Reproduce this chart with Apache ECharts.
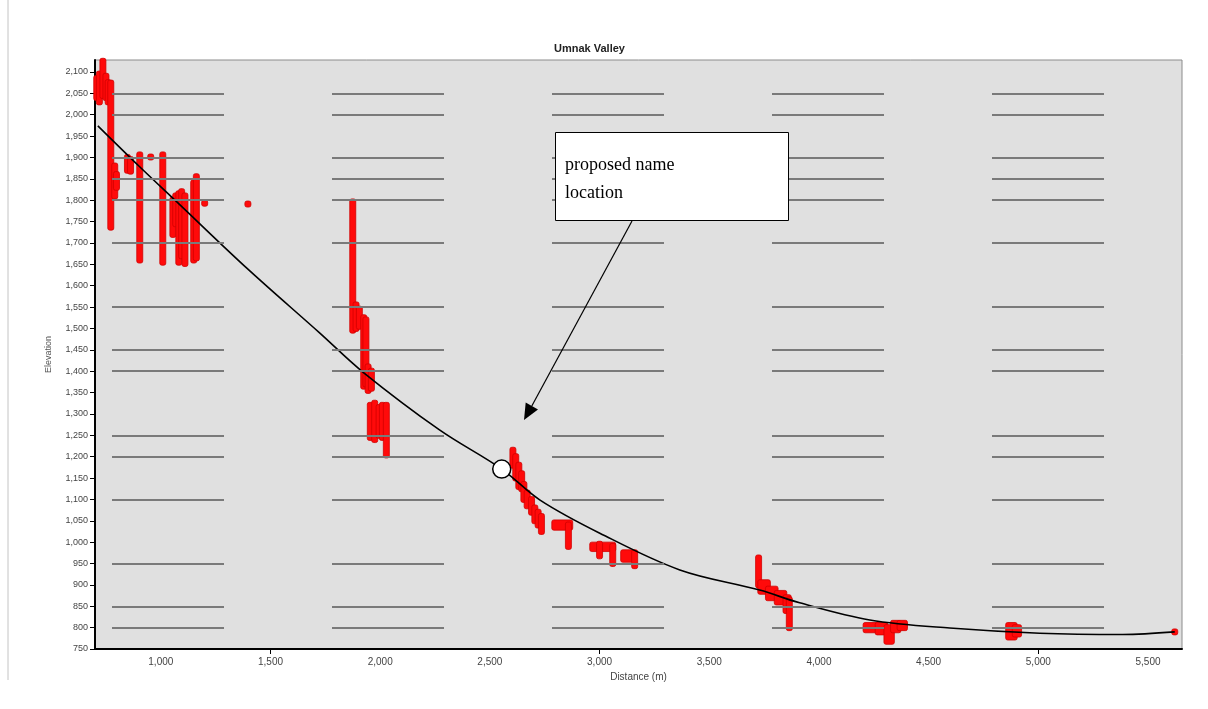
<!DOCTYPE html>
<html>
<head>
<meta charset="utf-8">
<title>Umnak Valley</title>
<script src="https://cdn.jsdelivr.net/npm/echarts@6/dist/echarts.min.js"></script>
<style>
  html, body { margin: 0; padding: 0; background: #ffffff; }
  #chart { width: 1208px; height: 709px; }
</style>
</head>
<body>
<div id="chart"></div>
<script>
// Axis tick labels
const xLabelValues = [1000, 1500, 2000, 2500, 3000, 3500, 4000, 4500, 5000, 5500];
const xTickMarks = [1500, 3000, 5000];
const yLabelValues = [750, 800, 850, 900, 950, 1000, 1050, 1100, 1150, 1200, 1250, 1300, 1350,
  1400, 1450, 1500, 1550, 1600, 1650, 1700, 1750, 1800, 1850, 1900, 1950, 2000, 2050, 2100];

// Elevations that carry a horizontal reference line
const referenceLevels = [2050, 2000, 1900, 1850, 1800, 1700, 1550, 1450, 1400, 1250, 1200, 1100, 950, 850, 800];

// Surveyed stream points, grouped into runs: [xStart, xEnd, elevTop, elevBottom]
const surveyRuns = [
  // upper reach
  [708, 708, 2085, 2040], [720, 720, 2095, 2030], [736, 736, 2125, 2045], [750, 750, 2090, 2040],
  [760, 760, 2075, 2030], [772, 772, 2074, 1737], [790, 790, 1880, 1810], [798, 798, 1860, 1830],
  [848, 848, 1900, 1870], [862, 862, 1895, 1868], [904, 904, 1906, 1660], [954, 954, 1901, 1901],
  [1009, 1009, 1906, 1655], [1055, 1055, 1800, 1720], [1068, 1068, 1810, 1745], [1082, 1082, 1815, 1655],
  [1095, 1095, 1820, 1670], [1110, 1110, 1810, 1652], [1150, 1150, 1840, 1660], [1162, 1162, 1855, 1665],
  [1200, 1200, 1793, 1793], [1397, 1397, 1791, 1791],
  // middle reach
  [1875, 1875, 1796, 1496], [1890, 1890, 1555, 1500], [1905, 1905, 1545, 1505], [1925, 1925, 1525, 1365],
  [1935, 1935, 1520, 1370], [1945, 1945, 1410, 1355], [1960, 1960, 1400, 1360], [1955, 1955, 1320, 1245],
  [1975, 1975, 1325, 1240], [1995, 1995, 1315, 1250], [2010, 2010, 1320, 1245], [2028, 2028, 1320, 1204],
  // lower reach
  [2605, 2605, 1215, 1180], [2618, 2618, 1200, 1150], [2632, 2632, 1180, 1130], [2645, 2645, 1160, 1125],
  [2655, 2655, 1135, 1100], [2670, 2670, 1115, 1085], [2690, 2690, 1100, 1070], [2705, 2705, 1080, 1050],
  [2720, 2720, 1070, 1040], [2735, 2735, 1060, 1025], [2796, 2864, 1045, 1035], [2858, 2858, 1040, 990],
  [2969, 3060, 993, 985], [3000, 3000, 995, 968], [3060, 3060, 990, 950], [3110, 3140, 975, 960],
  [3160, 3160, 975, 945],
  [3725, 3725, 963, 900], [3735, 3765, 905, 885], [3770, 3800, 890, 870], [3810, 3840, 880, 860],
  [3850, 3860, 870, 840], [3865, 3865, 865, 800],
  [4215, 4260, 805, 795], [4270, 4300, 805, 790], [4310, 4330, 800, 768], [4340, 4360, 810, 795],
  [4370, 4390, 810, 800],
  [4865, 4890, 805, 778], [4895, 4910, 800, 785],
  [5622, 5622, 790, 790]
];

// Fitted profile through the survey
const profileFit = [
  [713, 1974], [900, 1880], [1073, 1796], [1392, 1641], [1725, 1489], [1921, 1398], [2272, 1262],
  [2554, 1171], [2727, 1099], [3001, 1021], [3366, 935], [3730, 888], [3912, 858], [4232, 818],
  [4596, 799], [5006, 787], [5385, 784], [5622, 790]
];

// Proposed name location on the profile
const proposedSite = [[2554, 1171]];

const chart = echarts.init(document.getElementById('chart'), null, { renderer: 'canvas' });

const option = {
  backgroundColor: '#ffffff',
  animation: false,
  title: {
    text: 'Umnak Valley',
    left: 549,
    top: 38,
    textStyle: { fontFamily: 'Liberation Sans, Arial, sans-serif', fontSize: 11, fontWeight: 'bold', color: '#222222' }
  },
  grid: {
    left: 95, right: 26, top: 60, bottom: 60,
    show: true,
    backgroundColor: '#e0e0e0',
    borderColor: '#8c8c8c',
    borderWidth: 1
  },
  xAxis: {
    type: 'value',
    min: 700,
    max: 5655,
    name: 'Distance (m)',
    nameLocation: 'middle',
    nameGap: 22,
    nameTextStyle: { fontFamily: 'Liberation Sans, Arial, sans-serif', fontSize: 10, color: '#444' },
    axisLine: { show: true, onZero: false, lineStyle: { color: '#000', width: 2 } },
    axisTick: { show: true, customValues: xTickMarks, length: 5, lineStyle: { color: '#000', width: 1 } },
    axisLabel: {
      customValues: xLabelValues,
      margin: 8,
      fontFamily: 'Liberation Sans, Arial, sans-serif',
      fontSize: 10,
      color: '#444',
      formatter: v => v.toLocaleString('en-US')
    },
    splitLine: { show: false }
  },
  yAxis: {
    type: 'value',
    min: 750,
    max: 2128,
    name: 'Elevation',
    nameLocation: 'middle',
    nameRotate: 90,
    nameGap: 42,
    nameTextStyle: { fontFamily: 'Liberation Sans, Arial, sans-serif', fontSize: 9, color: '#555' },
    axisLine: { show: true, onZero: false, lineStyle: { color: '#000', width: 2 } },
    axisTick: { show: true, customValues: yLabelValues, length: 5, lineStyle: { color: '#000', width: 1 } },
    axisLabel: {
      customValues: yLabelValues,
      margin: 7,
      fontFamily: 'Liberation Sans, Arial, sans-serif',
      fontSize: 9,
      color: '#444',
      formatter: v => v.toLocaleString('en-US')
    },
    splitLine: { show: false }
  },
  series: [
    {
      // broken horizontal reference lines
      name: 'levels',
      type: 'line',
      data: [],
      z: 1,
      silent: true,
      markLine: {
        silent: true,
        symbol: ['none', 'none'],
        label: { show: false },
        lineStyle: { color: '#7a7a7a', width: 2, type: [112, 108], dashOffset: 203 },
        data: referenceLevels.map(v => ({ yAxis: v }))
      }
    },
    {
      name: 'survey',
      type: 'custom',
      z: 3,
      encode: { x: [0, 1], y: [2, 3] },
      data: surveyRuns,
      renderItem: (params, api) => {
        const a = api.coord([api.value(0), api.value(2)]);
        const b = api.coord([api.value(1), api.value(3)]);
        const r = 3;
        const x = Math.min(a[0], b[0]) - r;
        const y = Math.min(a[1], b[1]) - r;
        return {
          type: 'rect',
          shape: { x: x, y: y, width: Math.abs(b[0] - a[0]) + 2 * r, height: Math.abs(b[1] - a[1]) + 2 * r, r: 2 },
          style: { fill: '#ff0a0a', stroke: '#d00000', lineWidth: 0.8 }
        };
      }
    },
    {
      name: 'profile',
      type: 'line',
      z: 4,
      data: profileFit,
      smooth: 0.35,
      symbol: 'none',
      lineStyle: { color: '#000000', width: 1.6 }
    },
    {
      name: 'proposed name location',
      type: 'scatter',
      z: 5,
      data: proposedSite,
      symbol: 'circle',
      symbolSize: 18,
      itemStyle: { color: '#ffffff', borderColor: '#000000', borderWidth: 1.5, opacity: 1 }
    }
  ],
  graphic: [
    {
      type: 'line',
      shape: { x1: 8, y1: 0, x2: 8, y2: 680 },
      style: { stroke: '#c4c4c4', lineWidth: 1 }
    },
    {
      type: 'rect',
      z: 10,
      shape: { x: 555.5, y: 132.5, width: 233, height: 88 },
      style: { fill: '#ffffff', stroke: '#000000', lineWidth: 1 }
    },
    {
      type: 'text',
      z: 11,
      x: 565, y: 156,
      style: { text: 'proposed name', fontFamily: 'Liberation Serif, Times New Roman, serif', fontSize: 18, fill: '#000' }
    },
    {
      type: 'text',
      z: 11,
      x: 565, y: 184,
      style: { text: 'location', fontFamily: 'Liberation Serif, Times New Roman, serif', fontSize: 18, fill: '#000' }
    },
    {
      type: 'line',
      z: 10,
      shape: { x1: 632, y1: 221, x2: 531.8, y2: 406 },
      style: { stroke: '#000', lineWidth: 1.2 }
    },
    {
      type: 'polygon',
      z: 10,
      shape: { points: [[524, 420], [538, 409.4], [525.7, 402.6]] },
      style: { fill: '#000' }
    }
  ]
};

chart.setOption(option);
</script>
</body>
</html>
